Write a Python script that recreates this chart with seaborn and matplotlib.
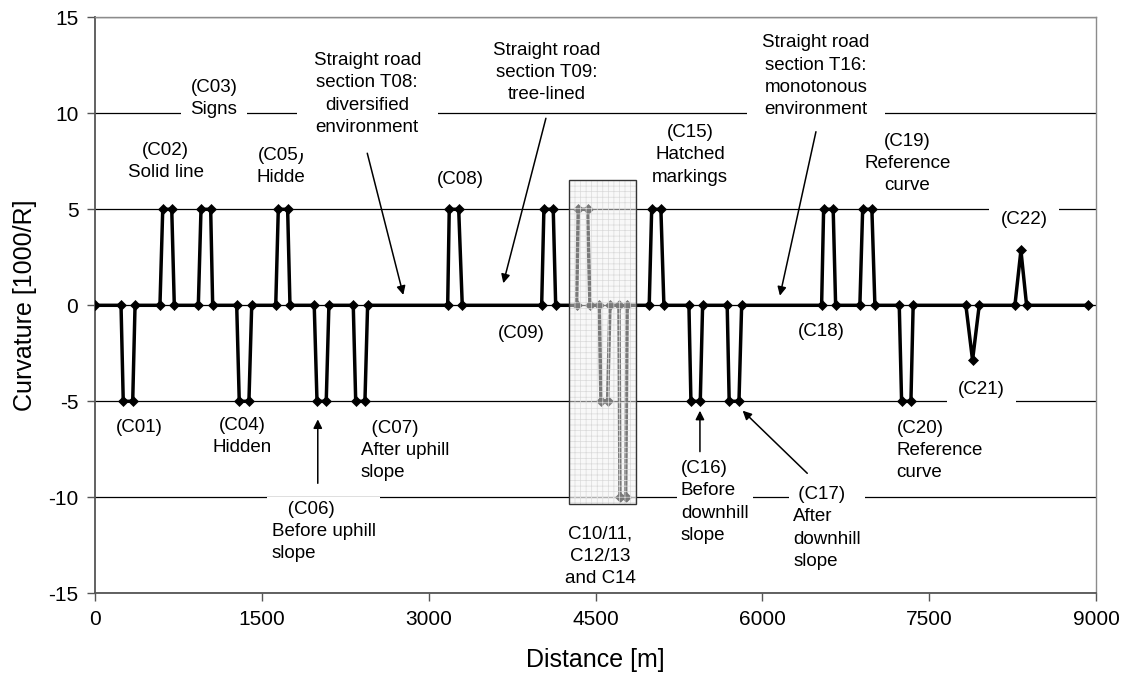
import matplotlib
matplotlib.use('Agg')
import matplotlib.pyplot as plt
import seaborn as sns
import pandas as pd
from matplotlib.patches import Rectangle

# ---- data ----
distance = [0,
            234, 254, 339, 360,        # C01
            584, 609, 690, 713,        # C02
            929, 953, 1040, 1058,      # C03
            1274, 1297, 1384, 1409,    # C04
            1625, 1648, 1732, 1753,    # C05
            1971, 1996, 2079, 2103,    # C06
            2322, 2344, 2427, 2451,    # C07
            3171, 3185, 3270, 3302,    # C08
            4016, 4036, 4120, 4142,    # C09
            4330, 4345, 4429, 4450,    # C10/11
            4534, 4549, 4609, 4630,    # C12/13
            4711, 4720, 4771, 4785,    # C14
            4983, 5005, 5088, 5115,    # C15
            5340, 5358, 5442, 5463,    # C16
            5684, 5702, 5790, 5814,    # C17
            6533, 6551, 6637, 6659,    # C18
            6877, 6902, 6985, 7012,    # C19
            7231, 7252, 7336, 7356,    # C20
            7830, 7890, 7950,          # C21
            8271, 8325, 8376,          # C22
            8930]
curvature = [0,
             0, -5, -5, 0,
             0, 5, 5, 0,
             0, 5, 5, 0,
             0, -5, -5, 0,
             0, 5, 5, 0,
             0, -5, -5, 0,
             0, -5, -5, 0,
             0, 5, 5, 0,
             0, 5, 5, 0,
             0, 5, 5, 0,
             0, -5, -5, 0,
             0, -10, -10, 0,
             0, 5, 5, 0,
             0, -5, -5, 0,
             0, -5, -5, 0,
             0, 5, 5, 0,
             0, 5, 5, 0,
             0, -5, -5, 0,
             0, -2.86, 0,
             0, 2.86, 0,
             0]
highlight_x = [4264, 4866]        # C10-C14 shaded section (distance range)
highlight_y = [-10.35, 6.53]      # curvature range
x_ticks = [0, 1500, 3000, 4500, 6000, 7500, 9000]
y_ticks = [-15, -10, -5, 0, 5, 10, 15]

# labels: (x, y, text, ha, pad in points)
labels = [
    (396, -6.37, "(C01)", 'center', 2),
    (636, 7.51, "(C02)\nSolid line", 'center', 2),
    (1070, 10.76, "(C03)\nSigns", 'center', 7),
    (1324, -6.84, "(C04)\nHidden", 'center', 2),
    (1672, 7.22, "(C05)\nHidde", 'center', 2),
    (1588, -11.79, "   (C06)\nBefore uphill\nslope", 'left', 3),
    (2388, -7.56, "  (C07)\nAfter uphill\nslope", 'left', 2),
    (2448, 11.0, "Straight road\nsection T08:\ndiversified\nenvironment", 'center', 12),
    (3281, 6.53, "(C08)", 'center', 2),
    (4061, 12.11, "Straight road\nsection T09:\ntree-lined", 'center', 3),
    (3830, -1.49, "(C09)", 'center', 2),
    (4540, -13.06, "C10/11,\nC12/13\nand C14", 'center', 3),
    (5349, 7.83, "(C15)\nHatched\nmarkings", 'center', 2),
    (5268, -10.25, "(C16)\nBefore\ndownhill\nslope", 'left', 3),
    (6278, -11.6, " (C17)\nAfter\ndownhill\nslope", 'left', 3),
    (6482, 11.93, "Straight road\nsection T16:\nmonotonous\nenvironment", 'center', 11),
    (6533, -1.37, "(C18)", 'center', 2),
    (7303, 7.40, "(C19)\nReference\ncurve", 'center', 2),
    (7207, -7.55, "(C20)\nReference\ncurve", 'left', 2),
    (7972, -4.41, "(C21)", 'center', 8),
    (8352, 4.48, "(C22)", 'center', 8),
]
# arrows: (tail x, tail y, head x, head y)
arrows = [
    (2448, 7.92, 2772, 0.54),
    (4054, 9.74, 3671, 1.15),
    (2003, -9.27, 2003, -5.94),
    (5439, -7.62, 5439, -5.49),
    (6404, -8.75, 5823, -5.49),
    (6482, 9.04, 6158, 0.5),
]

# ---- plotting ----
sns.set_style('white')
plt.rcParams['font.family'] = ['Liberation Sans', 'DejaVu Sans']
plt.rcParams['hatch.linewidth'] = 0.5
plt.rcParams['axes.unicode_minus'] = False

FS = 13.5
fig = plt.figure(figsize=(11.22, 6.79), dpi=100)
ax = fig.add_axes([95 / 1122, 1 - 593.3 / 679, (1096 - 95) / 1122, (593.3 - 17.3) / 679])

df = pd.DataFrame({'Distance': distance, 'Curvature': curvature})
sns.lineplot(data=df, x='Distance', y='Curvature', ax=ax, color='black',
             linewidth=2.5, marker='D', markersize=5.5, markeredgecolor='black',
             markeredgewidth=0.5, estimator=None, sort=False, zorder=3)

# shaded highlight box (semi-opaque with fine grid)
bx, by = highlight_x[0], highlight_y[0]
bw, bh = highlight_x[1] - highlight_x[0], highlight_y[1] - highlight_y[0]
ax.add_patch(Rectangle((bx, by), bw, bh, facecolor=(0.95, 0.95, 0.95, 0.5),
                       edgecolor='#dadada', hatch='+++', linewidth=0, zorder=4))
ax.add_patch(Rectangle((bx, by), bw, bh, fill=False, edgecolor='#333333',
                       linewidth=1.0, zorder=4.5))

ax.set_xlim(0, 9000)
ax.set_ylim(-15, 15)
ax.set_xticks(x_ticks)
ax.set_yticks(y_ticks)
ax.tick_params(axis='both', which='both', bottom=True, left=True, direction='out',
               length=6, width=1, color='#555555', labelsize=15, pad=6,
               labelcolor='black')
ax.yaxis.grid(True, color='black', linewidth=0.9)
ax.xaxis.grid(False)
ax.set_axisbelow(True)

for side in ['left', 'bottom']:
    ax.spines[side].set_color('#555555')
    ax.spines[side].set_linewidth(1.3)
for side in ['top', 'right']:
    ax.spines[side].set_color('#8c8c8c')
    ax.spines[side].set_linewidth(1.0)

ax.set_xlabel('Distance [m]', fontsize=18, labelpad=14, color='black')
ax.set_ylabel('Curvature [1000/R]', fontsize=18, labelpad=8, color='black')

for x, y, t, ha, pad in labels:
    ax.text(x, y, t, ha=ha, va='center', fontsize=FS, linespacing=1.4,
            multialignment=ha, zorder=5, color='black',
            bbox=dict(facecolor='white', edgecolor='none',
                      boxstyle='square,pad=%.3f' % (pad / FS)))

for tx, ty, hx, hy in arrows:
    ax.annotate('', xy=(hx, hy), xytext=(tx, ty), zorder=6,
                arrowprops=dict(arrowstyle='-|>', color='black', lw=1.1,
                                mutation_scale=13, shrinkA=0, shrinkB=0))

fig.savefig('out.png', dpi=100)
